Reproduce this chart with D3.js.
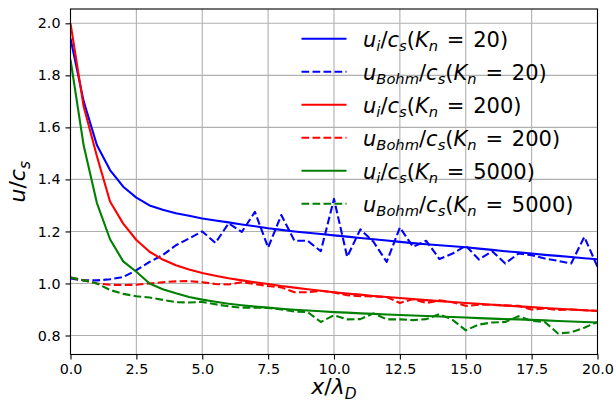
<!DOCTYPE html>
<html>
<head>
<meta charset="utf-8">
<script src="https://cdn.jsdelivr.net/npm/d3@7"></script>
<style>
  body { margin: 0; background: #fff; }
  svg { display: block; font-family: "DejaVu Sans", sans-serif; }
</style>
</head>
<body>
<svg id="chart" width="616" height="403"></svg>
<script>
// x positions (x / lambda_D), one sample every 0.5
const xs = d3.range(0, 20.01, 0.5);

// Kn = 20
const ui20 = [1.942, 1.70, 1.532, 1.436, 1.372, 1.33, 1.30, 1.283, 1.27, 1.26, 1.25,
  1.242, 1.235, 1.227, 1.22, 1.212, 1.206, 1.2, 1.195, 1.19, 1.185,
  1.18, 1.175, 1.17, 1.165, 1.16, 1.155, 1.151, 1.147, 1.143, 1.139,
  1.134, 1.129, 1.124, 1.12, 1.115, 1.11, 1.106, 1.102, 1.097, 1.093];
const ub20 = [1.019, 1.012, 1.012, 1.016, 1.025, 1.051, 1.083, 1.109, 1.147, 1.173, 1.2,
  1.156, 1.231, 1.198, 1.275, 1.138, 1.263, 1.164, 1.164, 1.124, 1.325,
  1.102, 1.208, 1.16, 1.083, 1.215, 1.141, 1.164, 1.094, 1.115, 1.145,
  1.092, 1.124, 1.077, 1.115, 1.109, 1.096, 1.087, 1.077, 1.179, 1.064];

// Kn = 200
const ui200 = [2.0, 1.68, 1.49, 1.315, 1.23, 1.167, 1.122, 1.092, 1.07, 1.054, 1.04,
  1.03, 1.02, 1.012, 1.005, 0.998, 0.99, 0.984, 0.978, 0.972, 0.966,
  0.961, 0.957, 0.952, 0.948, 0.944, 0.94, 0.936, 0.932, 0.929, 0.925,
  0.922, 0.918, 0.915, 0.912, 0.909, 0.906, 0.903, 0.9, 0.897, 0.894];
const ub200 = [1.023, 1.012, 1.0, 0.995, 0.994, 0.995, 1.0, 1.005, 1.008, 1.009, 1.005,
  0.998, 0.996, 1.005, 0.998, 0.99, 0.985, 0.966, 0.966, 0.972, 0.965,
  0.955, 0.951, 0.95, 0.948, 0.925, 0.94, 0.925, 0.935, 0.928, 0.914,
  0.918, 0.918, 0.916, 0.914, 0.9, 0.904, 0.898, 0.9, 0.897, 0.895];

// Kn = 5000
const ui5000 = [1.86, 1.53, 1.31, 1.17, 1.085, 1.045, 1.0, 0.978, 0.962, 0.948, 0.938,
  0.93, 0.922, 0.916, 0.911, 0.907, 0.903, 0.899, 0.896, 0.893, 0.89,
  0.888, 0.885, 0.883, 0.881, 0.879, 0.877, 0.875, 0.873, 0.871, 0.869,
  0.867, 0.865, 0.863, 0.862, 0.86, 0.858, 0.856, 0.854, 0.852, 0.85];
const ub5000 = [1.023, 1.012, 1.0, 0.975, 0.96, 0.951, 0.946, 0.937, 0.928, 0.927, 0.929,
  0.92, 0.912, 0.907, 0.907, 0.906, 0.9, 0.892, 0.89, 0.852, 0.878,
  0.862, 0.863, 0.885, 0.862, 0.862, 0.859, 0.863, 0.882, 0.86, 0.82,
  0.842, 0.85, 0.852, 0.874, 0.857, 0.852, 0.808, 0.812, 0.83, 0.852];

const xTicks = [0, 2.5, 5, 7.5, 10, 12.5, 15, 17.5, 20];
const yTicks = [0.8, 1.0, 1.2, 1.4, 1.6, 1.8, 2.0];

// series order follows the legend
const series = [
  { values: ui20,   color: "#0000ff", dashed: false, sub: "i",    kn: "20" },
  { values: ub20,   color: "#0000ff", dashed: true,  sub: "Bohm", kn: "20" },
  { values: ui200,  color: "#ff0000", dashed: false, sub: "i",    kn: "200" },
  { values: ub200,  color: "#ff0000", dashed: true,  sub: "Bohm", kn: "200" },
  { values: ui5000, color: "#008000", dashed: false, sub: "i",    kn: "5000" },
  { values: ub5000, color: "#008000", dashed: true,  sub: "Bohm", kn: "5000" }
];

const svg = d3.select("#chart");
const plot = { left: 70.5, right: 597.5, top: 9, bottom: 354.5 };

const x = d3.scaleLinear().domain([0, 20]).range([plot.left, plot.right]);
const y = d3.scaleLinear().domain([0.727, 2.055]).range([plot.bottom, plot.top]);

svg.append("clipPath").attr("id", "clip")
  .append("rect")
  .attr("x", plot.left).attr("y", plot.top)
  .attr("width", plot.right - plot.left).attr("height", plot.bottom - plot.top);

// grid
const grid = svg.append("g").attr("stroke", "#b0b0b0").attr("stroke-width", 1.1);
grid.selectAll(".gx").data(xTicks).join("line")
  .attr("x1", d => x(d)).attr("x2", d => x(d))
  .attr("y1", plot.top).attr("y2", plot.bottom);
grid.selectAll(".gy").data(yTicks).join("line")
  .attr("x1", plot.left).attr("x2", plot.right)
  .attr("y1", d => y(d)).attr("y2", d => y(d));

// curves
const line = d3.line().x((d, i) => x(xs[i])).y(d => y(d));
svg.append("g").attr("clip-path", "url(#clip)")
  .selectAll("path").data(series).join("path")
  .attr("d", d => line(d.values))
  .attr("fill", "none")
  .attr("stroke", d => d.color)
  .attr("stroke-width", 2.1)
  .attr("stroke-linejoin", "round")
  .attr("stroke-dasharray", d => d.dashed ? "7.7,3.3" : null);

// axes
const xAxis = d3.axisBottom(x).tickValues(xTicks).tickFormat(d3.format(".1f"))
  .tickSize(5).tickPadding(4);
const yAxis = d3.axisLeft(y).tickValues(yTicks).tickFormat(d3.format(".1f"))
  .tickSize(5).tickPadding(5);

const gx = svg.append("g").attr("transform", `translate(0,${plot.bottom})`).call(xAxis);
const gy = svg.append("g").attr("transform", `translate(${plot.left},0)`).call(yAxis);
[gx, gy].forEach(g => {
  g.select(".domain").remove();
  g.selectAll(".tick line").attr("stroke", "#000").attr("stroke-width", 1.1);
  g.selectAll(".tick text").attr("fill", "#000")
    .style("font-family", "DejaVu Sans").style("font-size", "14.3px");
});

// frame
svg.append("rect")
  .attr("x", plot.left).attr("y", plot.top)
  .attr("width", plot.right - plot.left).attr("height", plot.bottom - plot.top)
  .attr("fill", "none").attr("stroke", "#000").attr("stroke-width", 1.1);

// mathtext-like label: parts are [text, kind] with kind i (italic), r (roman), s (italic subscript), e (spaced relation)
function mathText(g, parts, size) {
  const t = g.append("text").style("font-size", size + "px").attr("fill", "#000");
  let down = false;
  parts.forEach(([str, kind]) => {
    const ts = t.append("tspan").text(str);
    if (kind === "s") {
      ts.attr("font-style", "italic").style("font-size", (size * 0.7) + "px");
      if (!down) ts.attr("dy", size * 0.22);
      down = true;
    } else {
      if (kind === "i") ts.attr("font-style", "italic");
      if (kind === "e") ts.attr("dx", size * 0.42);
      if (down) ts.attr("dy", -size * 0.22);
      down = false;
    }
  });
  return t;
}

// axis labels
const xl = svg.append("g").attr("transform", `translate(${(plot.left + plot.right) / 2},394)`);
mathText(xl, [["x", "i"], ["/", "r"], ["λ", "i"], ["D", "s"]], 22).attr("text-anchor", "middle");

const yl = svg.append("g").attr("transform", `translate(25,${(plot.top + plot.bottom) / 2}) rotate(-90)`);
mathText(yl, [["u", "i"], ["/", "r"], ["c", "i"], ["s", "s"]], 22).attr("text-anchor", "middle");

// legend (no frame, grid shows through)
const legend = svg.append("g");
series.forEach((s, i) => {
  const cy = 38.7 + i * 33;
  legend.append("line")
    .attr("x1", 301.5).attr("x2", 346.5).attr("y1", cy).attr("y2", cy)
    .attr("stroke", s.color).attr("stroke-width", 2.1)
    .attr("stroke-dasharray", s.dashed ? "7.7,3.3" : null);
  const g = legend.append("g").attr("transform", `translate(363,${cy + 8})`);
  mathText(g, [["u", "i"], [s.sub, "s"], ["/", "r"], ["c", "i"], ["s", "s"], ["(", "r"],
    ["K", "i"], ["n", "s"], ["=", "e"], [s.kn + ")", "e"]], 21);
});
</script>
</body>
</html>
